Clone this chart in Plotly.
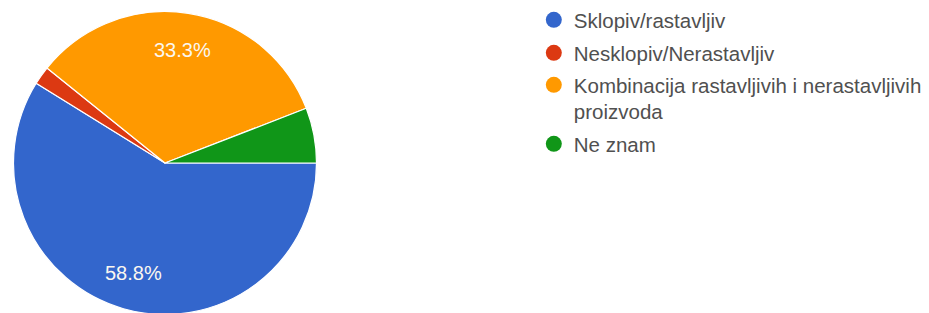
import math
import plotly.graph_objects as go

labels = ["Sklopiv/rastavljiv", "Nesklopiv/Nerastavljiv",
          "Kombinacija rastavljivih i nerastavljivih<br>proizvoda", "Ne znam"]
counts = [30, 1, 17, 3]
colors = ["#3366cc", "#dc3912", "#ff9900", "#109618"]

W, H = 929, 313
# pie placement (figure pixels)
cx, cy, R = 157, 155, 151.5
# legend row positions (page pixels, first text line centre)
legend_rows = [20, 53, 85, 144]
total = sum(counts)

fig = go.Figure()
fig.add_trace(go.Pie(
    labels=labels, values=counts, sort=False, direction="clockwise", rotation=90,
    marker=dict(colors=colors, line=dict(color="white", width=1.2)),
    textinfo="none", showlegend=False, hoverinfo="label+percent",
    domain=dict(x=[(cx - R) / W, (cx + R) / W], y=[1 - 2 * cy / H, 1]),
))

legend_font = dict(size=20.5, color="#505050", family="Liberation Sans, Arial")
legend_layouts = {}
for i, (lab, col) in enumerate(zip(labels, colors)):
    key = "legend" if i == 0 else f"legend{i + 1}"
    fig.add_trace(go.Scatter(x=[None], y=[None], mode="markers", name=lab,
                             legend=key,
                             marker=dict(color=col, size=20, symbol="circle")))
    legend_layouts[key] = dict(
        x=0.566, y=1 + (28 - legend_rows[i]) / H, xanchor="left", yanchor="top",
        valign="top", font=legend_font, bgcolor="rgba(0,0,0,0)", itemsizing="trace")

# percentage labels along each large slice's bisector (Google-style)
annotations = []
start = 0.0
for c in counts:
    frac = c / total
    mid = (start + frac / 2) * 2 * math.pi  # clockwise from east (screen coords)
    start += frac
    if frac < 0.1:
        continue
    px = cx + 0.755 * R * math.cos(mid)
    py = cy + 0.755 * R * math.sin(mid)
    annotations.append(dict(
        x=px / W, y=1 - py / H, xref="paper", yref="paper", showarrow=False,
        text=f"{100 * frac:.1f}%", xanchor="center", yanchor="middle",
        font=dict(color="#fbf7f0", size=20, family="Liberation Sans, Arial"),
    ))

fig.update_layout(
    width=W, height=H, margin=dict(l=0, r=0, t=0, b=0, autoexpand=False),
    paper_bgcolor="white", plot_bgcolor="white",
    xaxis=dict(visible=False), yaxis=dict(visible=False),
    annotations=annotations,
    **legend_layouts,
)
fig.write_html("out.html")
